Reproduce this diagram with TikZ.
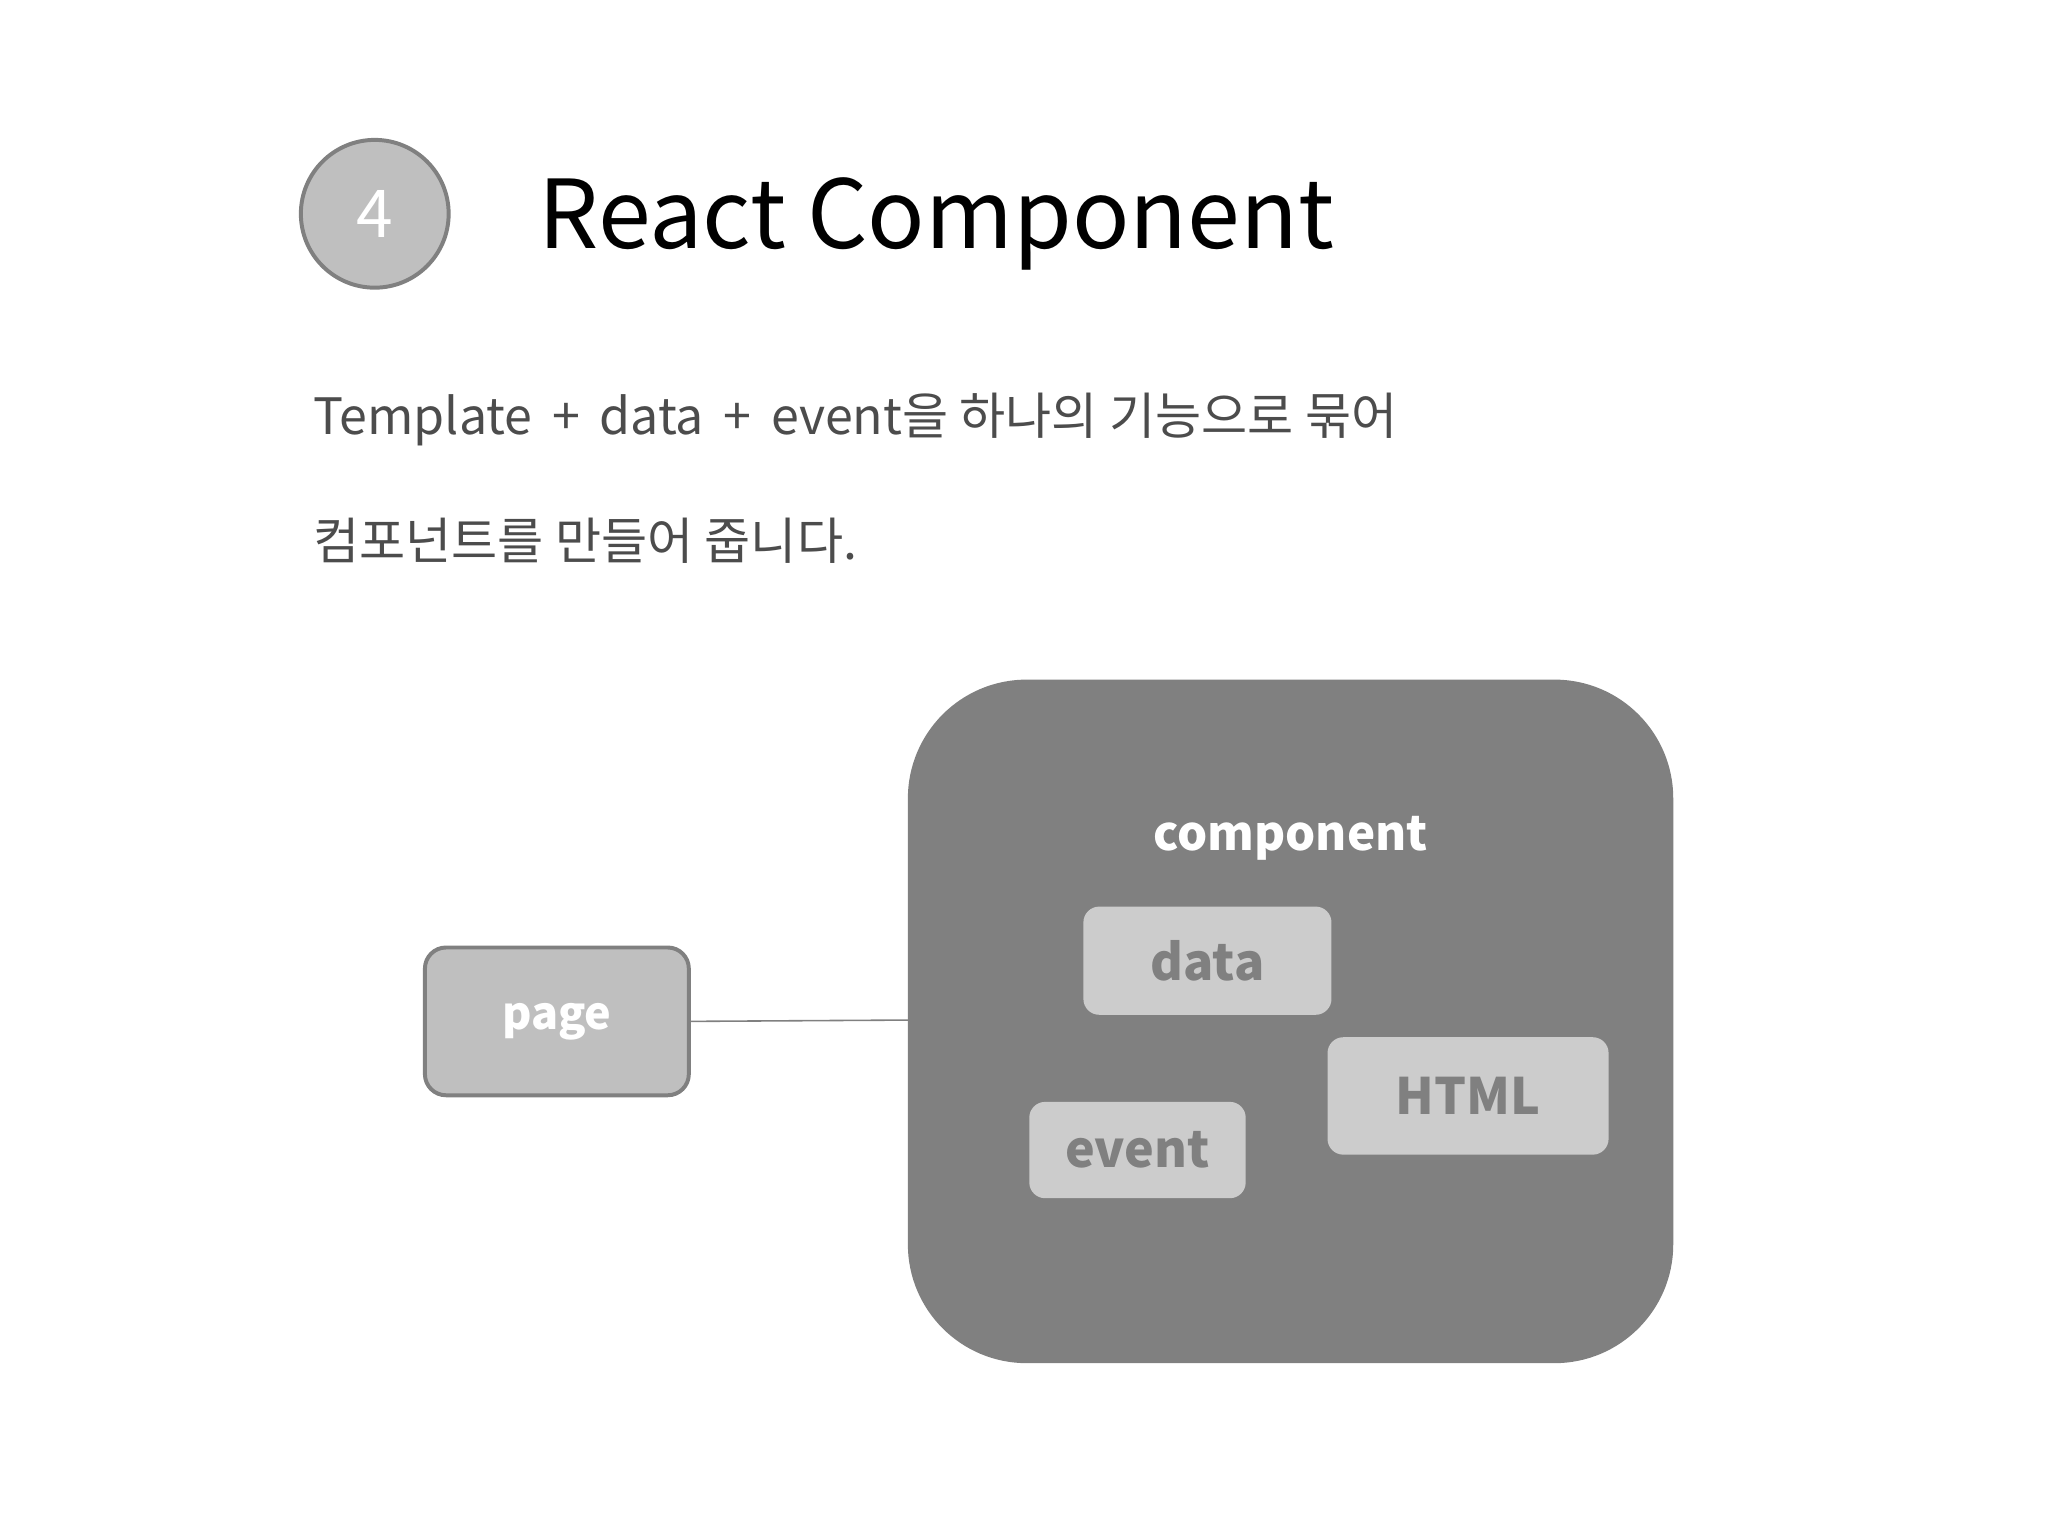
\documentclass[tikz,border=0pt]{standalone}
\usepackage{fontspec}
\setmainfont{Noto Sans CJK KR}
\newfontfamily\krbold[BoldFont={Noto Sans CJK KR Bold}]{Noto Sans CJK KR}
\begin{document}
\begin{tikzpicture}[x=0.5pt,y=-0.5pt,
  inbox/.style={draw=none,fill=black!20,rounded corners=6pt,text=black!50,font=\fontsize{19}{22}\selectfont\bfseries,inner sep=0pt},
]
\useasboundingbox (0,0) rectangle (1552,1164);
\node[circle,draw=black!50,line width=1.5pt,fill=black!25,minimum size=56pt,inner sep=0pt,text=white,font=\fontsize{25}{28}\selectfont] (num) at (284,162) {4};
\node[anchor=west,font=\fontsize{36}{40}\selectfont,inner sep=0pt] (title) at (408,170) {React Component};
\node[anchor=west,font=\fontsize{19}{22}\selectfont,text=black!70,inner sep=0pt] (l1) at (237,318) {Template \,+\, data \,+\, event을 하나의 기능으로 묶어};
\node[anchor=west,font=\fontsize{19}{22}\selectfont,text=black!70,inner sep=0pt] (l2) at (237,410) {컴포넌트를 만들어 줍니다.};
\draw[fill=black!50,draw=none,rounded corners=45pt] (688,515) rectangle (1268,1033);
\coordinate (cw) at (688,773);
\node[text=white,font=\fontsize{18}{22}\selectfont\bfseries] (comp) at (978,635) {component};
\node[inbox,minimum width=94pt,minimum height=41pt] (data) at (915,728) {data};
\node[inbox,minimum width=106.5pt,minimum height=44.5pt] (html) at (1112.5,830.5) {HTML};
\node[inbox,minimum width=82pt,minimum height=36.5pt] (event) at (862,871.5) {event};
\node[draw=black!50,line width=1.5pt,fill=black!25,rounded corners=8pt,minimum width=100pt,minimum height=56pt,inner sep=0pt,text=white,font=\fontsize{17}{20}\selectfont\bfseries] (page) at (422,774) {page};
\draw[black!50,line width=0.6pt] (page.east) -- (cw);
\end{tikzpicture}
\end{document}
